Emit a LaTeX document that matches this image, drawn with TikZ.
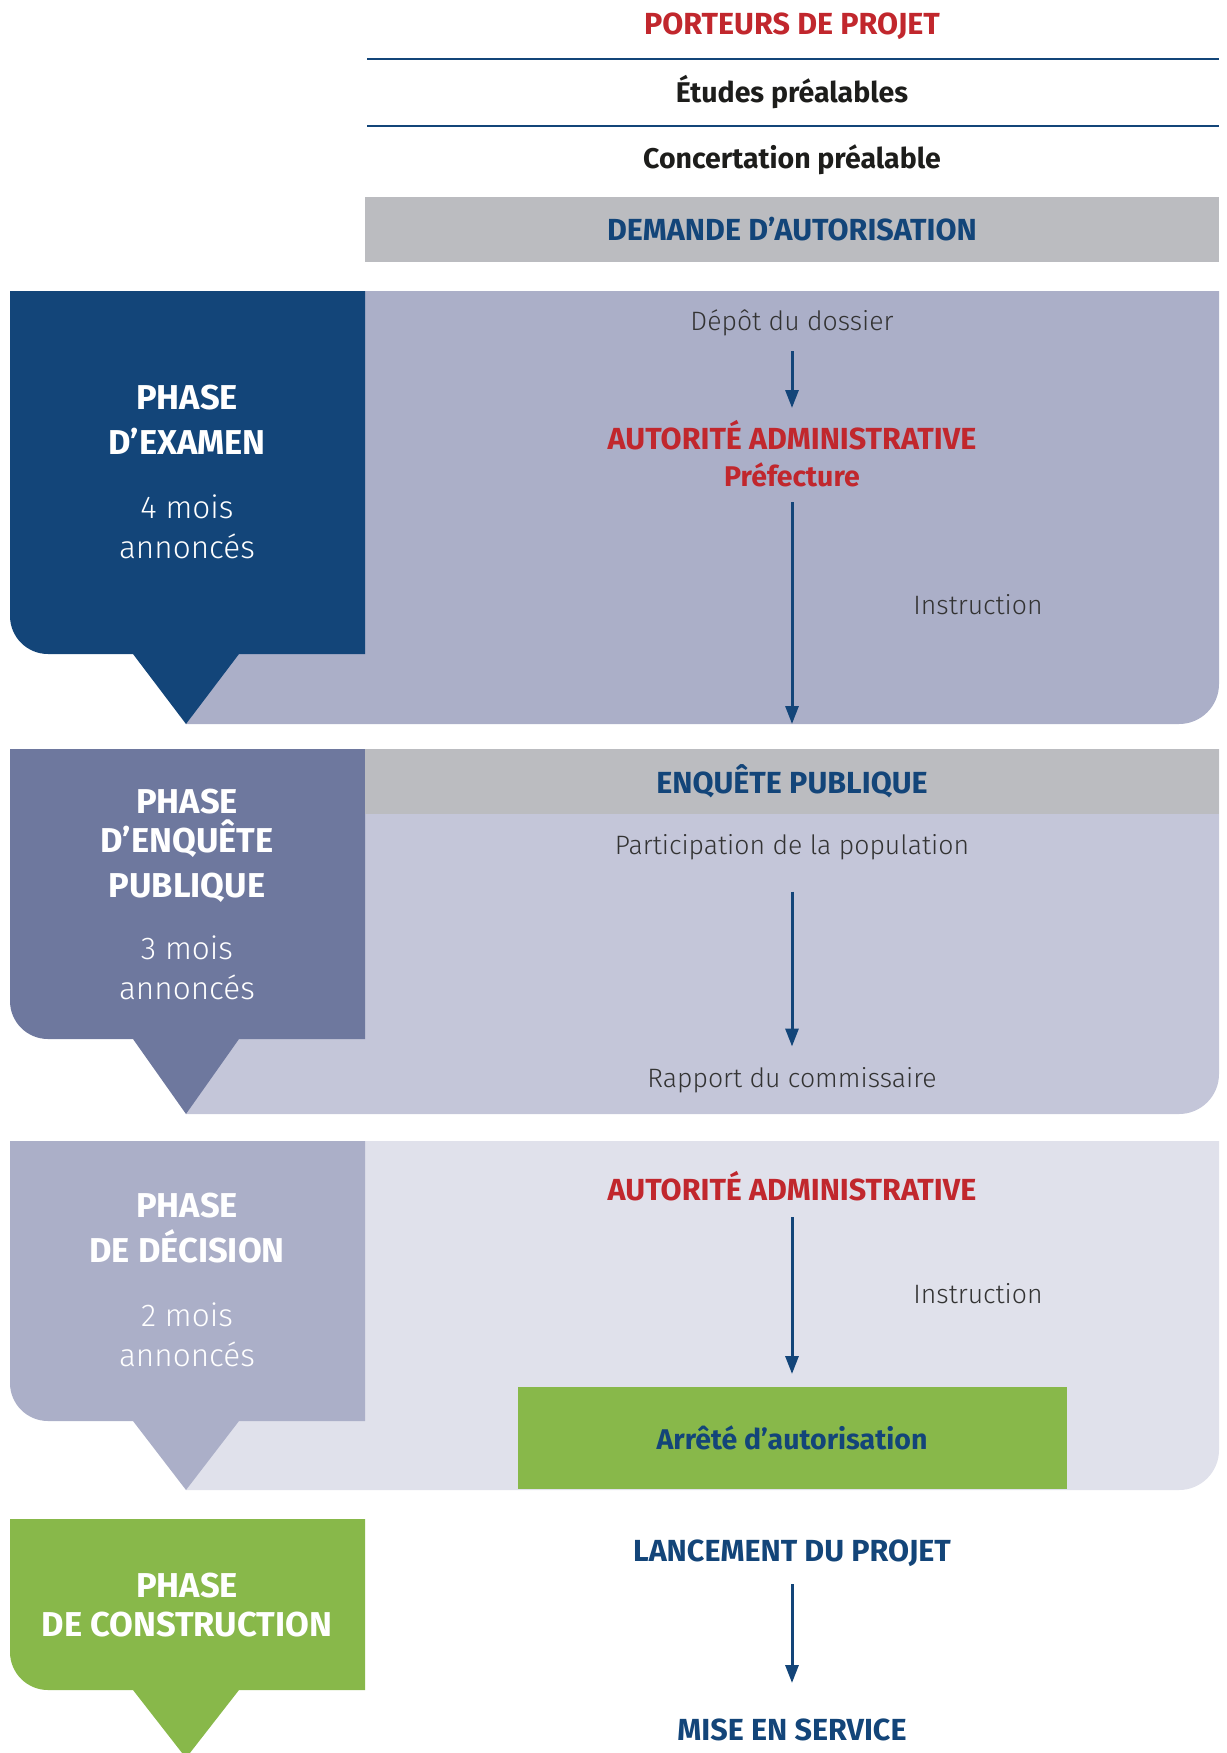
\documentclass[tikz,border=0pt]{standalone}
\usepackage{fontspec}
\setmainfont{Fira Sans}
\newfontfamily\lightfont{Fira Sans Light}
\usetikzlibrary{positioning}
\usetikzlibrary{arrows.meta}

\definecolor{navy}{HTML}{134579}
\definecolor{redtxt}{HTML}{C1272D}
\definecolor{lavdark}{HTML}{6E789E}
\definecolor{lavmid}{HTML}{ABAFC8}
\definecolor{lavlight}{HTML}{C4C6D9}
\definecolor{lavpale}{HTML}{E0E1EB}
\definecolor{headgray}{HTML}{BBBCC0}
\definecolor{leafgreen}{HTML}{88B84A}
\definecolor{inktxt}{HTML}{1D1D1B}
\definecolor{softtxt}{HTML}{333333}

\tikzstyle{actor}      = [text=redtxt, font=\bfseries\fontsize{30.5}{36}\selectfont, inner sep=0pt]
\tikzstyle{office}     = [actor, font=\bfseries\fontsize{28.5}{34}\selectfont]
\tikzstyle{stage}      = [text=inktxt, font=\bfseries\fontsize{28.5}{34}\selectfont, inner sep=0pt]
\tikzstyle{milestone}  = [text=navy, font=\bfseries\fontsize{30.5}{36}\selectfont, inner sep=0pt]
\tikzstyle{band}       = [milestone, fill=headgray, minimum width=854pt, minimum height=65pt]
\tikzstyle{decree}     = [milestone, font=\bfseries\fontsize{28.5}{34}\selectfont, fill=leafgreen, minimum width=549pt, minimum height=102pt]
\tikzstyle{event}      = [text=softtxt, font=\lightfont\fontsize{26.6}{32}\selectfont, inner sep=0pt]
\tikzstyle{phasetitle} = [text=white, align=center, font=\bfseries\fontsize{34.5}{45}\selectfont, inner sep=0pt]
\tikzstyle{phasetime}  = [text=white, align=center, font=\lightfont\fontsize{31.5}{40}\selectfont, inner sep=0pt]
\tikzstyle{flow}       = [draw=navy, line width=3pt, -{Triangle[length=18pt,width=13pt]}]
\tikzstyle{rule}       = [draw=navy, line width=2.7pt]

\begin{document}
\begin{tikzpicture}[x=1pt, y=-1pt]
	\useasboundingbox (0,0) rectangle (1226,1753);

	% phase panels
	\fill [lavmid]   (186,291)  -- (1219,291)  -- (1219,684)  arc[start angle=0, end angle=90, radius=40] -- (186,724)  -- cycle;
	\fill [lavlight] (186,749)  -- (1219,749)  -- (1219,1074) arc[start angle=0, end angle=90, radius=40] -- (186,1114) -- cycle;
	\fill [lavpale]  (186,1141) -- (1219,1141) -- (1219,1450) arc[start angle=0, end angle=90, radius=40] -- (186,1490) -- cycle;

	% phase callouts
	\fill [navy]      (10,291)  -- (365,291)  -- (365,654)  -- (239,654)  -- (186,724)  -- (133,654)  -- (48,654)  arc[start angle=90, end angle=180, radius=38] -- cycle;
	\fill [lavdark]   (10,749)  -- (365,749)  -- (365,1039) -- (239,1039) -- (186,1114) -- (133,1039) -- (48,1039) arc[start angle=90, end angle=180, radius=38] -- cycle;
	\fill [lavmid]    (10,1141) -- (365,1141) -- (365,1421) -- (239,1421) -- (186,1490) -- (133,1421) -- (48,1421) arc[start angle=90, end angle=180, radius=38] -- cycle;
	\fill [leafgreen] (10,1519) -- (365,1519) -- (365,1690) -- (239,1690) -- (186,1758) -- (133,1690) -- (48,1690) arc[start angle=90, end angle=180, radius=38] -- cycle;

	% separators
	\path [rule] (367,59) -- (1219,59);
	\path [rule] (367,126) -- (1219,126);

	% project owners
	\node [actor] (porteurs) at (792,26) {PORTEURS DE PROJET};
	\node [stage, below of=porteurs, node distance=66pt]   (etudes)  {Études préalables};
	\node [stage, below of=etudes, node distance=68pt]     (concert) {Concertation préalable};
	\node [band, below of=concert, node distance=69.5pt]   (demande) {DEMANDE D’AUTORISATION};

	% examination
	\node [event] (depot) at (792,323) {Dépôt du dossier};
	\node [actor, below of=depot, node distance=112pt]      (autorite1)  {AUTORITÉ ADMINISTRATIVE};
	\node [office, below of=autorite1, node distance=40pt]  (prefecture) {Préfecture};
	\node [event] (instr1) at (978,605) {Instruction};

	% public inquiry
	\node [band] (enquete) at (792,781.5) {ENQUÊTE PUBLIQUE};
	\node [event, below of=enquete, node distance=66pt]         (participation) {Participation de la population};
	\node [event, below of=participation, node distance=233pt]  (rapport)       {Rapport du commissaire};

	% decision
	\node [actor] (autorite2) at (792,1186) {AUTORITÉ ADMINISTRATIVE};
	\node [event] (instr2) at (978,1294) {Instruction};
	\node [decree, below of=autorite2, node distance=252pt] (arrete) {Arrêté d’autorisation};

	% construction
	\node [milestone] (lancement) at (792,1553) {LANCEMENT DU PROJET};
	\node [milestone, below of=lancement, node distance=177pt] (mise) {MISE EN SERVICE};

	% phase labels
	\node [phasetitle] (examen) at (187,420) {PHASE\\D’EXAMEN};
	\node [phasetime, below of=examen, node distance=107pt]   (examentime)   {4 mois\\annoncés};
	\node [phasetitle] (public) at (187,846) {PHASE\\[-6pt]D’ENQUÊTE\\PUBLIQUE};
	\node [phasetime, below of=public, node distance=122pt]   (publictime)   {3 mois\\annoncés};
	\node [phasetitle] (decision) at (187,1228.5) {PHASE\\DE DÉCISION};
	\node [phasetime, below of=decision, node distance=106.5pt] (decisiontime) {2 mois\\annoncés};
	\node [phasetitle] (chantier) at (187,1605.5) {PHASE\\[-6pt]DE CONSTRUCTION};

	% draw arrows
	\path [flow, shorten <=28pt, shorten >=27pt]   (depot.center)         -- (autorite1.center);
	\path [flow, shorten <=27pt, shorten >=57.5pt] (prefecture.center)    -- (enquete.center);
	\path [flow, shorten <=44pt, shorten >=34pt]   (participation.center) -- (rapport.center);
	\path [flow, shorten <=31pt, shorten >=64pt]   (autorite2.center)     -- (arrete.center);
	\path [flow, shorten <=31pt, shorten >=47pt]   (lancement.center)     -- (mise.center);
\end{tikzpicture}
\end{document}
